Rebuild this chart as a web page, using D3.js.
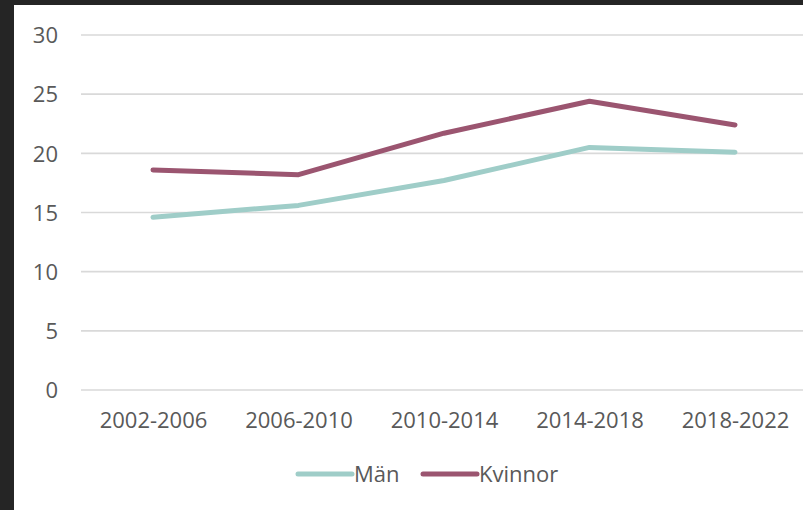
<!DOCTYPE html>
<html><head><meta charset="utf-8">
<script src="https://cdn.jsdelivr.net/npm/d3@7"></script>
<style>
html,body{margin:0;padding:0;background:#252525;}
svg{display:block;}
</style>
</head><body>
<svg id="c" width="803" height="510"></svg>
<script>
const categories = ["2002-2006","2006-2010","2010-2014","2014-2018","2018-2022"];
const man = [14.6, 15.6, 17.7, 20.5, 20.1];
const kvinnor = [18.6, 18.2, 21.7, 24.4, 22.4];
const yTicks = [0,5,10,15,20,25,30];
const seriesNames = ["Män","Kvinnor"];
const seriesColors = ["#9fcdc8","#9b5570"];

const svg = d3.select("#c");
const font = "'Open Sans', 'Segoe UI', sans-serif";
svg.append("rect").attr("x",14).attr("y",5).attr("width",789).attr("height",505).attr("fill","#fff");

const x = d3.scalePoint().domain(categories).range([153, 735]);
const y = d3.scaleLinear().domain([0,30]).range([390, 35]);

svg.append("g").selectAll("line").data(yTicks).join("line")
  .attr("x1",81).attr("x2",803)
  .attr("y1",d=>y(d)).attr("y2",d=>y(d))
  .attr("stroke","#d9d9d9").attr("stroke-width",1.6);

const yAxis = d3.axisLeft(y).tickValues(yTicks).tickSize(0).tickPadding(0);
const yg = svg.append("g").attr("transform","translate(58,0)").call(yAxis);
yg.select(".domain").remove();
yg.selectAll("text").attr("font-family",font).attr("font-size",22).attr("fill","#595959").attr("dy","0.35em");

const xAxis = d3.axisBottom(x).tickSize(0).tickPadding(0);
const xg = svg.append("g").attr("transform","translate(0,412)").call(xAxis);
xg.select(".domain").remove();
xg.selectAll("text").attr("font-family",font).attr("font-size",22).attr("fill","#595959").attr("dy","0.71em");

const line = d3.line().x((d,i)=>x(categories[i])).y(d=>y(d));
[man,kvinnor].forEach((s,i)=>{
  svg.append("path").datum(s).attr("d",line)
    .attr("fill","none").attr("stroke",seriesColors[i]).attr("stroke-width",5)
    .attr("stroke-linecap","round").attr("stroke-linejoin","round");
});

const legX = [298, 423];
const lg = svg.append("g");
seriesNames.forEach((n,i)=>{
  lg.append("line").attr("x1",legX[i]).attr("x2",legX[i]+54).attr("y1",474).attr("y2",474)
    .attr("stroke",seriesColors[i]).attr("stroke-width",5).attr("stroke-linecap","round");
  lg.append("text").attr("x",legX[i]+56).attr("y",474).attr("dy","0.35em")
    .attr("font-family",font).attr("font-size",22).attr("fill","#595959").text(n);
});
</script>
</body></html>
